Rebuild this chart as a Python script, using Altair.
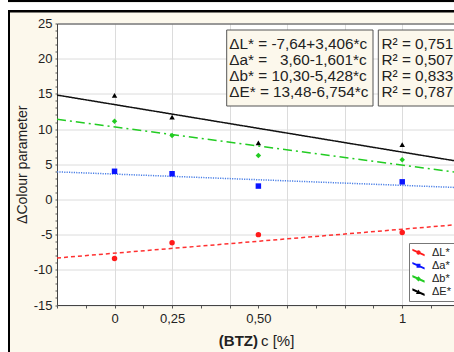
import altair as alt
import pandas as pd

# ---------------- data ----------------
series = ["ΔL*", "Δa*", "Δb*", "ΔE*"]
conc = [0, 0.2, 0.5, 1]
dL = [-8.4, -6.15, -5.0, -4.7]
da = [4.0, 3.65, 1.9, 2.5]
db = [11.1, 9.1, 6.25, 5.65]
dE = [14.8, 11.7, 8.05, 7.8]
intercepts = [-7.64, 3.60, 10.30, 13.48]
slopes = [3.406, -1.601, -5.428, -6.754]
equations = ["ΔL* = -7,64+3,406*c", "Δa* = \u00a0\u00a03,60-1,601*c",
             "Δb* = 10,30-5,428*c", "ΔE* = 13,48-6,754*c"]
r2_texts = ["R² = 0,751", "R² = 0,507", "R² = 0,833", "R² = 0,787"]
x_label_values = [0, 0.2, 0.5, 1]
x_label_texts = ["0", "0,25", "0,50", "1"]
x_tick_values = [-0.2, -0.1, 0, 0.1, 0.2, 0.3, 0.4, 0.5, 0.6, 0.7, 0.8, 0.9, 1.0, 1.1]
y_tick_values = list(range(-15, 26))
x_domain = [-0.2, 1.18]
y_domain = [-15, 25]

# ---------------- styles ----------------
FONT = "Liberation Sans"
BG = "#fcf8ec"
point_colors = ["#ff1a1a", "#0a14ff", "#22cc22", "#000000"]
line_colors = ["#ff3030", "#4a7fe6", "#22cc22", "#111111"]
dashes = [[4, 3], [1.2, 1.2], [9, 4, 2, 4], [1, 0]]
shapes = ["circle", "square", "diamond", "triangle-up"]
line_path = "M-1,-0.62L1,0.28L1,0.62L-1,-0.28Z"
legend_paths = [
    line_path + "M-0.36,0A0.36,0.36 0 1,1 0.36,0A0.36,0.36 0 1,1 -0.36,0Z",
    line_path + "M-0.32,-0.32H0.32V0.32H-0.32Z",
    line_path + "M0,-0.42L0.42,0L0,0.42L-0.42,0Z",
    line_path + "M0,-0.42L0.42,0.32L-0.42,0.32Z",
]

W, H = 397, 281.5

rows = []
for s, vals in zip(series, [dL, da, db, dE]):
    for c, v in zip(conc, vals):
        rows.append({"series": s, "c": c, "value": v})
pts = pd.DataFrame(rows)

lrows = []
for s, a, b in zip(series, intercepts, slopes):
    for xe in x_domain:
        lrows.append({"series": s, "a": a, "b": b, "c": xe})
lines_df = pd.DataFrame(lrows)

xscale = alt.Scale(domain=x_domain, nice=False, zero=False)
yscale = alt.Scale(domain=y_domain, nice=False, zero=False)

label_expr = " : ".join(
    f"abs(datum.value - ({v})) < 0.001 ? '{t}'" for v, t in zip(x_label_values, x_label_texts)
) + " : ''"

x_axis = alt.Axis(
    values=x_tick_values, labelExpr=label_expr, title=None,
    grid=True, gridColor="#dcdcdc",
    gridOpacity={"condition": {"test": "abs(datum.value*5 - round(datum.value*5)) < 0.001", "value": 1}, "value": 0},
    tickSize=3, tickColor="#555", labelPadding=4,
    labelFont=FONT, labelFontSize=13, labelColor="#222",
    domainColor="#444", labelFlush=False,
)
y_axis = alt.Axis(
    values=y_tick_values,
    labelExpr="datum.value % 5 === 0 ? toString(datum.value) : ''",
    grid=True, gridColor="#dcdcdc",
    gridOpacity={"condition": {"test": "datum.value % 5 === 0", "value": 1}, "value": 0},
    tickSize=2, tickColor="#555", labelPadding=3,
    labelFont=FONT, labelFontSize=13, labelColor="#222",
    domainColor="#444",
    title="ΔColour parameter", titleFont=FONT, titleFontSize=14, titleFontWeight="normal",
    titleColor="#222", titleAngle=-90, titleX=-35, titleY=H / 2,
    titleAlign="center", titleBaseline="middle",
)

lines = alt.Chart(lines_df).transform_calculate(
    y="datum.a + datum.b * datum.c"
).mark_line(strokeWidth=1.5).encode(
    x=alt.X("c:Q", scale=xscale, axis=None),
    y=alt.Y("y:Q", scale=yscale, axis=None),
    color=alt.Color("series:N", scale=alt.Scale(domain=series, range=line_colors), legend=None),
    strokeDash=alt.StrokeDash("series:N", scale=alt.Scale(domain=series, range=dashes), legend=None),
    detail="series:N",
)

points = alt.Chart(pts).mark_point(filled=True, size=30, opacity=1).encode(
    x=alt.X("c:Q", scale=xscale, axis=x_axis),
    y=alt.Y("value:Q", scale=yscale, axis=y_axis),
    color=alt.Color("series:N", scale=alt.Scale(domain=series, range=point_colors), legend=None),
    shape=alt.Shape("series:N", scale=alt.Scale(domain=series, range=shapes), legend=None),
)

leg = alt.Legend(
    title=None, orient="none", legendX=352, legendY=219.5,
    fillColor="white", strokeColor="#777", padding=3,
    symbolSize=150, symbolOpacity=1, symbolStrokeWidth=0,
    labelFont=FONT, labelFontSize=11, labelColor="#222", labelOffset=7,
    labelExpr="datum.label + '\u00a0\u00a0\u00a0\u00a0'",
    rowPadding=1.2,
)
legend_layer = alt.Chart(pts).mark_point(filled=True, opacity=0).encode(
    x=alt.X("c:Q", scale=xscale,
            axis=alt.Axis(orient="top", labels=False, ticks=False, grid=False,
                          title=None, domainColor="#444")),
    y=alt.Y("value:Q", scale=yscale, axis=None),
    color=alt.Color("series:N", scale=alt.Scale(domain=series, range=point_colors), legend=leg),
    shape=alt.Shape("series:N", scale=alt.Scale(domain=series, range=legend_paths), legend=leg),
)

one = pd.DataFrame({"k": [0]})


def box(x, x2, y, y2, fill, stroke=None):
    kw = {"fill": fill}
    if stroke:
        kw.update(stroke=stroke, strokeWidth=1)
    else:
        kw.update(strokeWidth=0)
    return alt.Chart(one).mark_rect(**kw).encode(
        x=alt.value(x), x2=alt.value(x2), y=alt.value(y), y2=alt.value(y2))


eq_df = pd.DataFrame({"t": ["\n".join(equations)]})
r2_df = pd.DataFrame({"t": ["\n".join(r2_texts)]})

eq_box = box(169.7, 316, 6.5, 82.5, BG, "#555")
r2_box = box(321.3, 410, 6.5, 82.5, BG, "#555")
eq_text = alt.Chart(eq_df).mark_text(
    align="left", baseline="alphabetic", font=FONT, fontSize=15.3, lineBreak="\n",
    lineHeight=16, color="#222"
).encode(text="t:N", x=alt.value(172.3), y=alt.value(25.2))
r2_text = alt.Chart(r2_df).mark_text(
    align="left", baseline="alphabetic", font=FONT, fontSize=15.3, lineBreak="\n",
    lineHeight=16, color="#222"
).encode(text="t:N", x=alt.value(324.5), y=alt.value(25.2))

xt_df = pd.DataFrame({"a": ["(BTZ)"], "b": ["c [%]"]})
xtitle_bold = alt.Chart(xt_df).mark_text(
    align="right", baseline="alphabetic", font=FONT, fontSize=15, fontWeight="bold", color="#222"
).encode(text="a:N", x=alt.value(201), y=alt.value(322.5))
xtitle_norm = alt.Chart(xt_df).mark_text(
    align="left", baseline="alphabetic", font=FONT, fontSize=15, color="#222"
).encode(text="b:N", x=alt.value(204), y=alt.value(322.5))

# frame decoration (only in the outer margin, never over the plot area)
frame = [
    box(-57, 400, -23.5, -21.3, "black"),
    box(-57, 400, -21.3, -13.5, "white"),
    box(-49, 400, -13.5, -11, "black"),
    box(-57, -49, -23.5, 330, "white"),
    box(-49, -47, -13.5, 330, "black"),
]

chart = alt.layer(
    *frame, lines, points, eq_box, r2_box, eq_text, r2_text,
    xtitle_bold, xtitle_norm, legend_layer,
).resolve_scale(
    color="independent", shape="independent"
).resolve_axis(
    x="independent", y="independent"
).properties(
    width=W, height=H,
    autosize=alt.AutoSizeParams(type="none"),
    padding={"left": 57, "top": 23.5, "right": 0, "bottom": 47},
    background=BG,
).configure_view(fill="white", stroke=None)

chart.save("out.html", embed_options={"renderer": "svg", "actions": False})
